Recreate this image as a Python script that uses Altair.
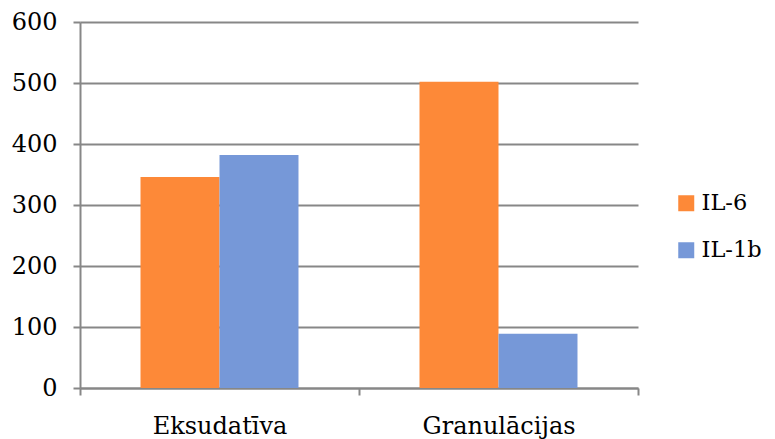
import altair as alt
import pandas as pd

categories = ["Eksudatīva", "Granulācijas"]
series = ["IL-6", "IL-1b"]
il6 = [346, 502]
il1b = [382, 89]
colors = ["#FD8938", "#7698D8"]
y_ticks = [0, 100, 200, 300, 400, 500, 600]

rows = []
for i, c in enumerate(categories):
    rows.append({"category": c, "series": series[0], "value": il6[i]})
    rows.append({"category": c, "series": series[1], "value": il1b[i]})
df = pd.DataFrame(rows)

FONT = "DejaVu Serif"
LINE = "#878787"
FS = 24

chart = alt.Chart(df).mark_bar().encode(
    x=alt.X("category:N", sort=categories,
            scale=alt.Scale(paddingInner=0, paddingOuter=0),
            axis=alt.Axis(title=None, labelAngle=0, tickBand="extent", ticks=True,
                          tickSize=7, tickColor=LINE, tickWidth=2,
                          domainColor=LINE, domainWidth=2,
                          labelPadding=19, labelFont=FONT, labelFontSize=FS,
                          labelColor="#000000")),
    xOffset=alt.XOffset("series:N", sort=series,
                        scale=alt.Scale(paddingInner=0, paddingOuter=0.766)),
    y=alt.Y("value:Q", scale=alt.Scale(domain=[0, 600]),
            axis=alt.Axis(title=None, values=y_ticks, grid=True, gridColor=LINE,
                          gridWidth=2, tickSize=7, tickColor=LINE, tickWidth=2,
                          domainColor=LINE, domainWidth=2, labelPadding=16,
                          labelFont=FONT, labelFontSize=FS, labelColor="#000000")),
    color=alt.Color("series:N", sort=series,
                    scale=alt.Scale(domain=series, range=colors),
                    legend=alt.Legend(title=None, orient="none", legendX=595, legendY=170,
                                      symbolType="square", symbolSize=256,
                                      symbolStrokeWidth=0,
                                      labelFont=FONT, labelFontSize=22.5,
                                      labelColor="#000000", rowPadding=24,
                                      labelOffset=4)),
).properties(
    width=558, height=366,
    autosize=alt.AutoSizeParams(type="none"),
    padding={"left": 72, "top": 14, "right": 129, "bottom": 52},
).configure_view(strokeOpacity=0)

chart.save("out.html", embed_options={"renderer": "svg", "actions": False})
